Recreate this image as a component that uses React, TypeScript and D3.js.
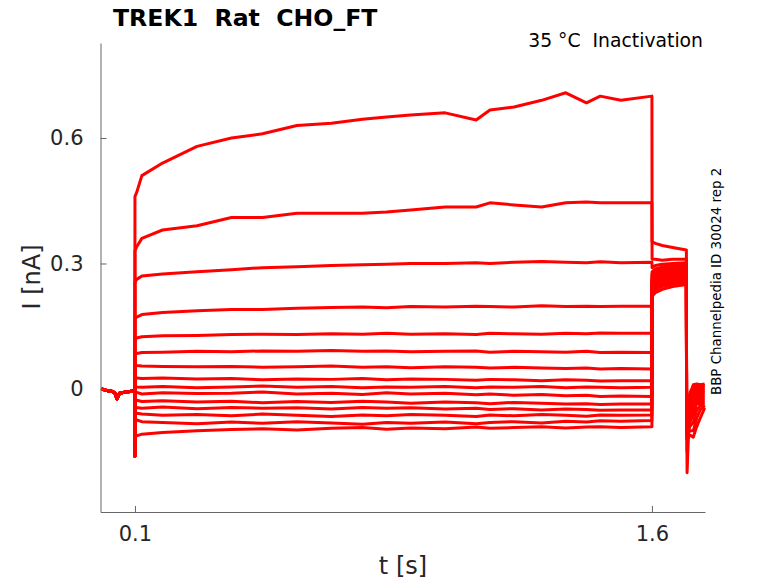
import React, { useRef, useEffect } from "react";
import * as d3 from "d3";

const WIDTH = 778;
const HEIGHT = 583;

// axis set-up
const xDomain: [number, number] = [0, 1.754];
const yDomain: [number, number] = [-0.294, 0.827];
const xTicks = [0.1, 1.6];
const yTicks = [0, 0.3, 0.6];

// holding period before the step (same for every sweep)
const preTimes = [0.003, 0.02, 0.035, 0.042, 0.048, 0.055, 0.07, 0.085, 0.0995];
const preCurrents = [0.0, -0.004, -0.006, -0.01, -0.024, -0.01, -0.008, -0.006, -0.004];
const onsetTime = 0.0998;
const onsetDip = -0.16;

// test pulse, 0.1 s .. 1.6 s
const stepTimes = [0.1, 0.105, 0.12, 0.18, 0.28, 0.38, 0.47, 0.57, 0.67, 0.76, 0.83, 0.9, 1.0, 1.09, 1.13, 1.2, 1.28, 1.35, 1.41, 1.45, 1.51, 1.6];
const stepCurrents = [
  [0.46, 0.47, 0.51, 0.54, 0.58, 0.6, 0.61, 0.63, 0.635, 0.645, 0.65, 0.655, 0.66, 0.643, 0.667, 0.674, 0.69, 0.708, 0.684, 0.7, 0.69, 0.7],
  [0.33, 0.34, 0.36, 0.38, 0.39, 0.41, 0.41, 0.42, 0.42, 0.42, 0.423, 0.428, 0.435, 0.435, 0.445, 0.44, 0.435, 0.445, 0.447, 0.445, 0.445, 0.445],
  [0.255, 0.262, 0.27, 0.275, 0.28, 0.285, 0.29, 0.292, 0.295, 0.297, 0.298, 0.3, 0.3, 0.302, 0.3, 0.303, 0.305, 0.303, 0.302, 0.304, 0.302, 0.303],
  [0.168, 0.172, 0.178, 0.183, 0.187, 0.19, 0.19, 0.193, 0.195, 0.196, 0.194, 0.197, 0.196, 0.198, 0.197, 0.196, 0.199, 0.197, 0.198, 0.197, 0.198, 0.198],
  [0.12, 0.122, 0.125, 0.127, 0.128, 0.13, 0.131, 0.13, 0.132, 0.131, 0.133, 0.131, 0.132, 0.13, 0.133, 0.132, 0.131, 0.133, 0.132, 0.134, 0.133, 0.133],
  [0.084, 0.085, 0.087, 0.088, 0.09, 0.089, 0.091, 0.09, 0.092, 0.09, 0.091, 0.089, 0.09, 0.091, 0.088, 0.09, 0.089, 0.088, 0.09, 0.087, 0.088, 0.087],
  [0.057, 0.056, 0.055, 0.054, 0.053, 0.054, 0.052, 0.053, 0.055, 0.052, 0.053, 0.051, 0.053, 0.052, 0.05, 0.052, 0.05, 0.049, 0.05, 0.048, 0.049, 0.048],
  [0.027, 0.026, 0.025, 0.026, 0.024, 0.025, 0.022, 0.024, 0.023, 0.025, 0.022, 0.024, 0.023, 0.021, 0.023, 0.022, 0.02, 0.022, 0.021, 0.019, 0.02, 0.02],
  [0.006, 0.005, 0.004, 0.006, 0.003, 0.005, 0.007, 0.004, 0.006, 0.003, 0.005, 0.004, 0.006, 0.003, 0.005, 0.004, 0.006, 0.003, 0.005, 0.004, 0.003, 0.004],
  [-0.01, -0.008, -0.012, -0.009, -0.011, -0.01, -0.007, -0.012, -0.01, -0.013, -0.009, -0.012, -0.01, -0.014, -0.012, -0.015, -0.013, -0.016, -0.015, -0.018, -0.017, -0.018],
  [-0.026, -0.027, -0.03, -0.028, -0.031, -0.029, -0.033, -0.03, -0.032, -0.029, -0.031, -0.034, -0.031, -0.033, -0.035, -0.032, -0.034, -0.036, -0.035, -0.037, -0.036, -0.036],
  [-0.043, -0.044, -0.046, -0.043, -0.047, -0.044, -0.046, -0.045, -0.048, -0.044, -0.046, -0.045, -0.048, -0.046, -0.049, -0.047, -0.05, -0.048, -0.049, -0.051, -0.05, -0.05],
  [-0.055, -0.058, -0.06, -0.063, -0.061, -0.064, -0.06, -0.063, -0.066, -0.062, -0.064, -0.061, -0.063, -0.066, -0.062, -0.064, -0.061, -0.063, -0.065, -0.062, -0.063, -0.062],
  [-0.07, -0.074, -0.078, -0.08, -0.083, -0.079, -0.082, -0.078, -0.081, -0.084, -0.08, -0.082, -0.079, -0.083, -0.08, -0.078, -0.081, -0.077, -0.079, -0.076, -0.077, -0.075],
  [-0.11, -0.112, -0.108, -0.104, -0.1, -0.097, -0.095, -0.098, -0.094, -0.092, -0.096, -0.093, -0.095, -0.091, -0.094, -0.092, -0.09, -0.093, -0.091, -0.09, -0.092, -0.09],
];

// tail currents, 1.6 s .. 1.7 s
const tailTimes = [1.6005, 1.61, 1.63, 1.66, 1.7];
const tailCurrents = [
  [0.352, 0.348, 0.343, 0.338, 0.332],
  [0.31, 0.31, 0.308, 0.31, 0.31],
  [0.29, 0.295, 0.298, 0.3, 0.302],
  [0.28, 0.287, 0.292, 0.295, 0.298],
  [0.275, 0.282, 0.287, 0.29, 0.293],
  [0.27, 0.277, 0.282, 0.286, 0.29],
  [0.265, 0.272, 0.278, 0.282, 0.286],
  [0.26, 0.267, 0.273, 0.278, 0.282],
  [0.255, 0.262, 0.268, 0.274, 0.278],
  [0.25, 0.257, 0.264, 0.27, 0.275],
  [0.245, 0.252, 0.259, 0.265, 0.27],
  [0.24, 0.247, 0.254, 0.26, 0.265],
  [0.235, 0.242, 0.25, 0.256, 0.261],
  [0.23, 0.237, 0.245, 0.251, 0.256],
  [0.222, 0.23, 0.238, 0.245, 0.25],
];

// after the tail
const postTimes = [1.7005, 1.702, 1.71, 1.72, 1.73, 1.74, 1.753];
const postCurrents = [
  [0.0, -0.2, -0.02, 0.01, 0.012, 0.01, 0.012],
  [-0.01, -0.15, -0.01, 0.008, 0.006, 0.01, 0.008],
  [-0.01, -0.12, -0.015, 0.004, 0.002, 0.006, 0.004],
  [-0.015, -0.1, -0.02, 0.0, -0.002, 0.002, 0.0],
  [-0.02, -0.09, -0.025, -0.005, -0.006, -0.002, -0.004],
  [-0.02, -0.08, -0.03, -0.01, -0.01, -0.006, -0.008],
  [-0.025, -0.08, -0.035, -0.015, -0.014, -0.01, -0.012],
  [-0.03, -0.085, -0.04, -0.02, -0.018, -0.015, -0.016],
  [-0.03, -0.09, -0.05, -0.025, -0.022, -0.02, -0.02],
  [-0.035, -0.09, -0.06, -0.03, -0.026, -0.025, -0.024],
  [-0.04, -0.1, -0.07, -0.045, -0.03, -0.03, -0.028],
  [-0.04, -0.1, -0.08, -0.06, -0.035, -0.035, -0.032],
  [-0.045, -0.11, -0.09, -0.08, -0.05, -0.04, -0.036],
  [-0.05, -0.11, -0.1, -0.1, -0.07, -0.05, -0.04],
  [-0.05, -0.12, -0.11, -0.115, -0.09, -0.07, -0.045],
];

const FONT = "'DejaVu Sans', sans-serif";

const TraceChart: React.FC = () => {
  const svgRef = useRef<SVGSVGElement>(null);

  useEffect(() => {
    const svg = d3.select(svgRef.current);
    svg.selectAll("*").remove();

    const x = d3.scaleLinear().domain(xDomain).range([100.5, 705]);
    const y = d3.scaleLinear().domain(yDomain).range([512, 43]);

    // sweeps
    const line = d3
      .line<[number, number]>()
      .x((d) => x(d[0]))
      .y((d) => y(d[1]));

    const sweeps = stepCurrents.map((step, i) => {
      const pts: [number, number][] = [];
      preTimes.forEach((t, j) => pts.push([t, preCurrents[j]]));
      pts.push([onsetTime, onsetDip]);
      stepTimes.forEach((t, j) => pts.push([t, step[j]]));
      tailTimes.forEach((t, j) => pts.push([t, tailCurrents[i][j]]));
      postTimes.forEach((t, j) => pts.push([t, postCurrents[i][j]]));
      return pts;
    });

    svg
      .append("g")
      .selectAll("path")
      .data(sweeps)
      .enter()
      .append("path")
      .attr("d", (d) => line(d))
      .attr("fill", "none")
      .attr("stroke", "#ff0000")
      .attr("stroke-width", 3)
      .attr("stroke-linejoin", "round");

    // axes (inward ticks)
    const xAxis = svg
      .append("g")
      .attr("transform", "translate(0,512)")
      .call(
        d3.axisBottom(x).tickValues(xTicks).tickSizeInner(-6).tickSizeOuter(0).tickPadding(14)
          .tickFormat(d3.format(".1f"))
      );
    const yAxis = svg
      .append("g")
      .attr("transform", "translate(100.5,0)")
      .call(
        d3.axisLeft(y).tickValues(yTicks).tickSizeInner(-6).tickSizeOuter(0).tickPadding(17)
          .tickFormat((d) => (d === 0 ? "0" : d3.format(".1f")(d as number)))
      );
    [xAxis, yAxis].forEach((g) => {
      g.select(".domain").attr("stroke", "#666");
      g.selectAll(".tick line").attr("stroke", "#666");
      g.selectAll(".tick text")
        .attr("fill", "#262626")
        .style("font-family", FONT)
        .style("font-size", "21px");
    });

    // axis titles
    svg
      .append("text")
      .attr("x", 403)
      .attr("y", 574)
      .attr("text-anchor", "middle")
      .attr("fill", "#262626")
      .style("font-family", FONT)
      .style("font-size", "24px")
      .text("t [s]");
    svg
      .append("text")
      .attr("transform", "translate(40,277) rotate(-90)")
      .attr("text-anchor", "middle")
      .attr("fill", "#262626")
      .style("font-family", FONT)
      .style("font-size", "24px")
      .text("I [nA]");

    // titles and notes
    svg
      .append("text")
      .attr("x", 113)
      .attr("y", 26)
      .attr("fill", "#000")
      .style("font-family", FONT)
      .style("font-size", "23.6px")
      .style("font-weight", "bold")
      .style("white-space", "pre")
      .text("TREK1  Rat  CHO_FT");
    svg
      .append("text")
      .attr("x", 703)
      .attr("y", 47)
      .attr("text-anchor", "end")
      .attr("fill", "#000")
      .style("font-family", FONT)
      .style("font-size", "18.8px")
      .style("white-space", "pre")
      .text("35 °C  Inactivation");
    svg
      .append("text")
      .attr("transform", "translate(721,395) rotate(-90)")
      .attr("fill", "#000")
      .style("font-family", FONT)
      .style("font-size", "13.4px")
      .text("BBP Channelpedia ID 30024 rep 2");
  }, []);

  return (
    <svg
      ref={svgRef}
      width={WIDTH}
      height={HEIGHT}
      style={{ position: "absolute", left: 0, top: 0, background: "#fff" }}
    />
  );
};

export default function App() {
  return <TraceChart />;
}
